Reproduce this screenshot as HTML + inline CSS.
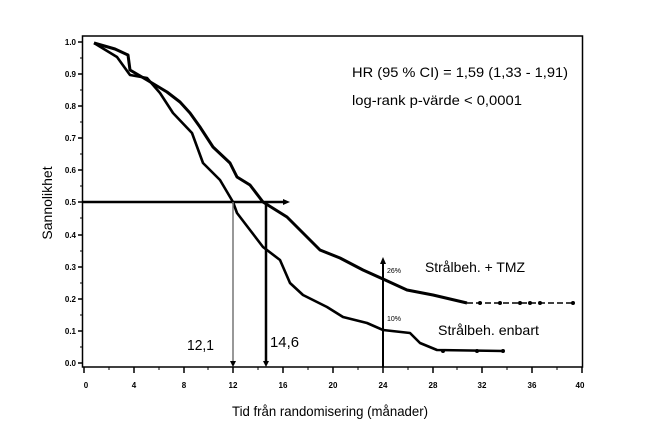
<!DOCTYPE html>
<html><head><style>
html,body{margin:0;padding:0;background:#fff;}
svg{display:block;font-family:"Liberation Sans",sans-serif;}
</style></head><body>
<svg width="652" height="443" viewBox="0 0 652 443" xmlns="http://www.w3.org/2000/svg">
<rect width="652" height="443" fill="#fff"/>
<rect x="82.5" y="36" width="500" height="331" fill="none" stroke="#000" stroke-width="1.5"/>
<g stroke="#000" stroke-width="1.5">
<line x1="78" y1="42" x2="82" y2="42"/><line x1="78" y1="74" x2="82" y2="74"/><line x1="78" y1="106" x2="82" y2="106"/><line x1="78" y1="138" x2="82" y2="138"/><line x1="78" y1="170" x2="82" y2="170"/><line x1="78" y1="202" x2="82" y2="202"/><line x1="78" y1="235" x2="82" y2="235"/><line x1="78" y1="267" x2="82" y2="267"/><line x1="78" y1="299" x2="82" y2="299"/><line x1="78" y1="331" x2="82" y2="331"/><line x1="78" y1="363" x2="82" y2="363"/>
<line x1="84" y1="367" x2="84" y2="373"/><line x1="134" y1="367" x2="134" y2="373"/><line x1="184" y1="367" x2="184" y2="373"/><line x1="233" y1="367" x2="233" y2="373"/><line x1="283" y1="367" x2="283" y2="373"/><line x1="333" y1="367" x2="333" y2="373"/><line x1="383" y1="367" x2="383" y2="373"/><line x1="433" y1="367" x2="433" y2="373"/><line x1="482" y1="367" x2="482" y2="373"/><line x1="532" y1="367" x2="532" y2="373"/><line x1="582" y1="367" x2="582" y2="373"/>
</g>
<g stroke="#000" stroke-width="1">
<line x1="80" y1="58" x2="82" y2="58"/><line x1="80" y1="90" x2="82" y2="90"/><line x1="80" y1="122" x2="82" y2="122"/><line x1="80" y1="154" x2="82" y2="154"/><line x1="80" y1="186" x2="82" y2="186"/><line x1="80" y1="218" x2="82" y2="218"/><line x1="80" y1="251" x2="82" y2="251"/><line x1="80" y1="283" x2="82" y2="283"/><line x1="80" y1="315" x2="82" y2="315"/><line x1="80" y1="347" x2="82" y2="347"/>
<line x1="109" y1="367" x2="109" y2="370"/><line x1="159" y1="367" x2="159" y2="370"/><line x1="208" y1="367" x2="208" y2="370"/><line x1="258" y1="367" x2="258" y2="370"/><line x1="308" y1="367" x2="308" y2="370"/><line x1="358" y1="367" x2="358" y2="370"/><line x1="408" y1="367" x2="408" y2="370"/><line x1="457" y1="367" x2="457" y2="370"/><line x1="507" y1="367" x2="507" y2="370"/><line x1="557" y1="367" x2="557" y2="370"/>
</g>
<g font-size="8" font-weight="bold" text-anchor="end">
<text x="76" y="45">1.0</text><text x="76" y="77">0.9</text><text x="76" y="109">0.8</text><text x="76" y="141">0.7</text><text x="76" y="173">0.6</text><text x="76" y="205">0.5</text><text x="76" y="238">0.4</text><text x="76" y="270">0.3</text><text x="76" y="302">0.2</text><text x="76" y="334">0.1</text><text x="76" y="366">0.0</text>
</g>
<g font-size="8" font-weight="bold" text-anchor="middle">
<text x="86" y="388">0</text><text x="134" y="388">4</text><text x="184" y="388">8</text><text x="233" y="388">12</text><text x="283" y="388">16</text><text x="333" y="388">20</text><text x="383" y="388">24</text><text x="433" y="388">28</text><text x="482" y="388">32</text><text x="532" y="388">36</text><text x="580" y="388">40</text>
</g>
<text x="330" y="416" font-size="14" text-anchor="middle" textLength="196" lengthAdjust="spacingAndGlyphs">Tid från randomisering (månader)</text>
<text transform="translate(52,203) rotate(-90)" font-size="14" text-anchor="middle">Sannolikhet</text>
<text x="352" y="77" font-size="14" textLength="216" lengthAdjust="spacingAndGlyphs">HR (95 % CI) = 1,59 (1,33 - 1,91)</text>
<text x="352" y="105" font-size="14" textLength="170" lengthAdjust="spacingAndGlyphs">log-rank p-värde &lt; 0,0001</text>
<text x="425" y="272" font-size="14" textLength="100" lengthAdjust="spacingAndGlyphs">Strålbeh. + TMZ</text>
<text x="438" y="335" font-size="14" textLength="101" lengthAdjust="spacingAndGlyphs">Strålbeh. enbart</text>
<text x="187" y="350" font-size="15" textLength="27" lengthAdjust="spacingAndGlyphs">12,1</text>
<text x="270" y="347" font-size="15" textLength="29" lengthAdjust="spacingAndGlyphs">14,6</text>
<text x="387" y="273" font-size="7">26%</text>
<text x="387" y="321" font-size="7">10%</text>
<g fill="none" stroke="#000" stroke-width="3" stroke-linejoin="round">
<polyline points="94,43 115,49 128,55 130,70 147,80 167,92 180,102 190,113 200,127 213,147 230,163 237,177 250,185 263,202 287,217 307,237 320,250 340,258 363,270 383,279 407,290 433,295 467,303"/>
<polyline points="94,43 117,57 130,75 147,78 160,93 173,113 192,133 203,163 220,180 233,202 237,213 250,230 263,247 280,260 290,283 303,295 327,307 343,317 367,323 383,330 410,333 420,343 437,350 503,351" stroke-width="2.6"/>
</g>
<line x1="467" y1="303" x2="573" y2="303" stroke="#000" stroke-width="1.5" stroke-dasharray="6,3"/>
<g fill="#000">
<circle cx="480" cy="303" r="2"/><circle cx="500" cy="303" r="2"/><circle cx="520" cy="303" r="2"/><circle cx="530" cy="303" r="2"/><circle cx="540" cy="303" r="2"/><circle cx="573" cy="303" r="2"/>
<circle cx="443" cy="351" r="2"/><circle cx="477" cy="351" r="2"/><circle cx="503" cy="351" r="2"/>
</g>
<g stroke="#000" stroke-width="2.5">
<line x1="82" y1="202" x2="284" y2="202"/>
<line x1="266" y1="202" x2="266" y2="363"/>
<line x1="383" y1="262" x2="383" y2="367" stroke-width="2"/>
</g>
<line x1="233" y1="202" x2="233" y2="363" stroke="#777" stroke-width="1.5"/>
<polygon points="290,202 283,199 283,205" fill="#000"/>
<polygon points="383,257 380,264 386,264" fill="#000"/>
<polygon points="233,367 230,361 236,361" fill="#000"/>
<polygon points="266,367 263,361 269,361" fill="#000"/>
</svg>
</body></html>
